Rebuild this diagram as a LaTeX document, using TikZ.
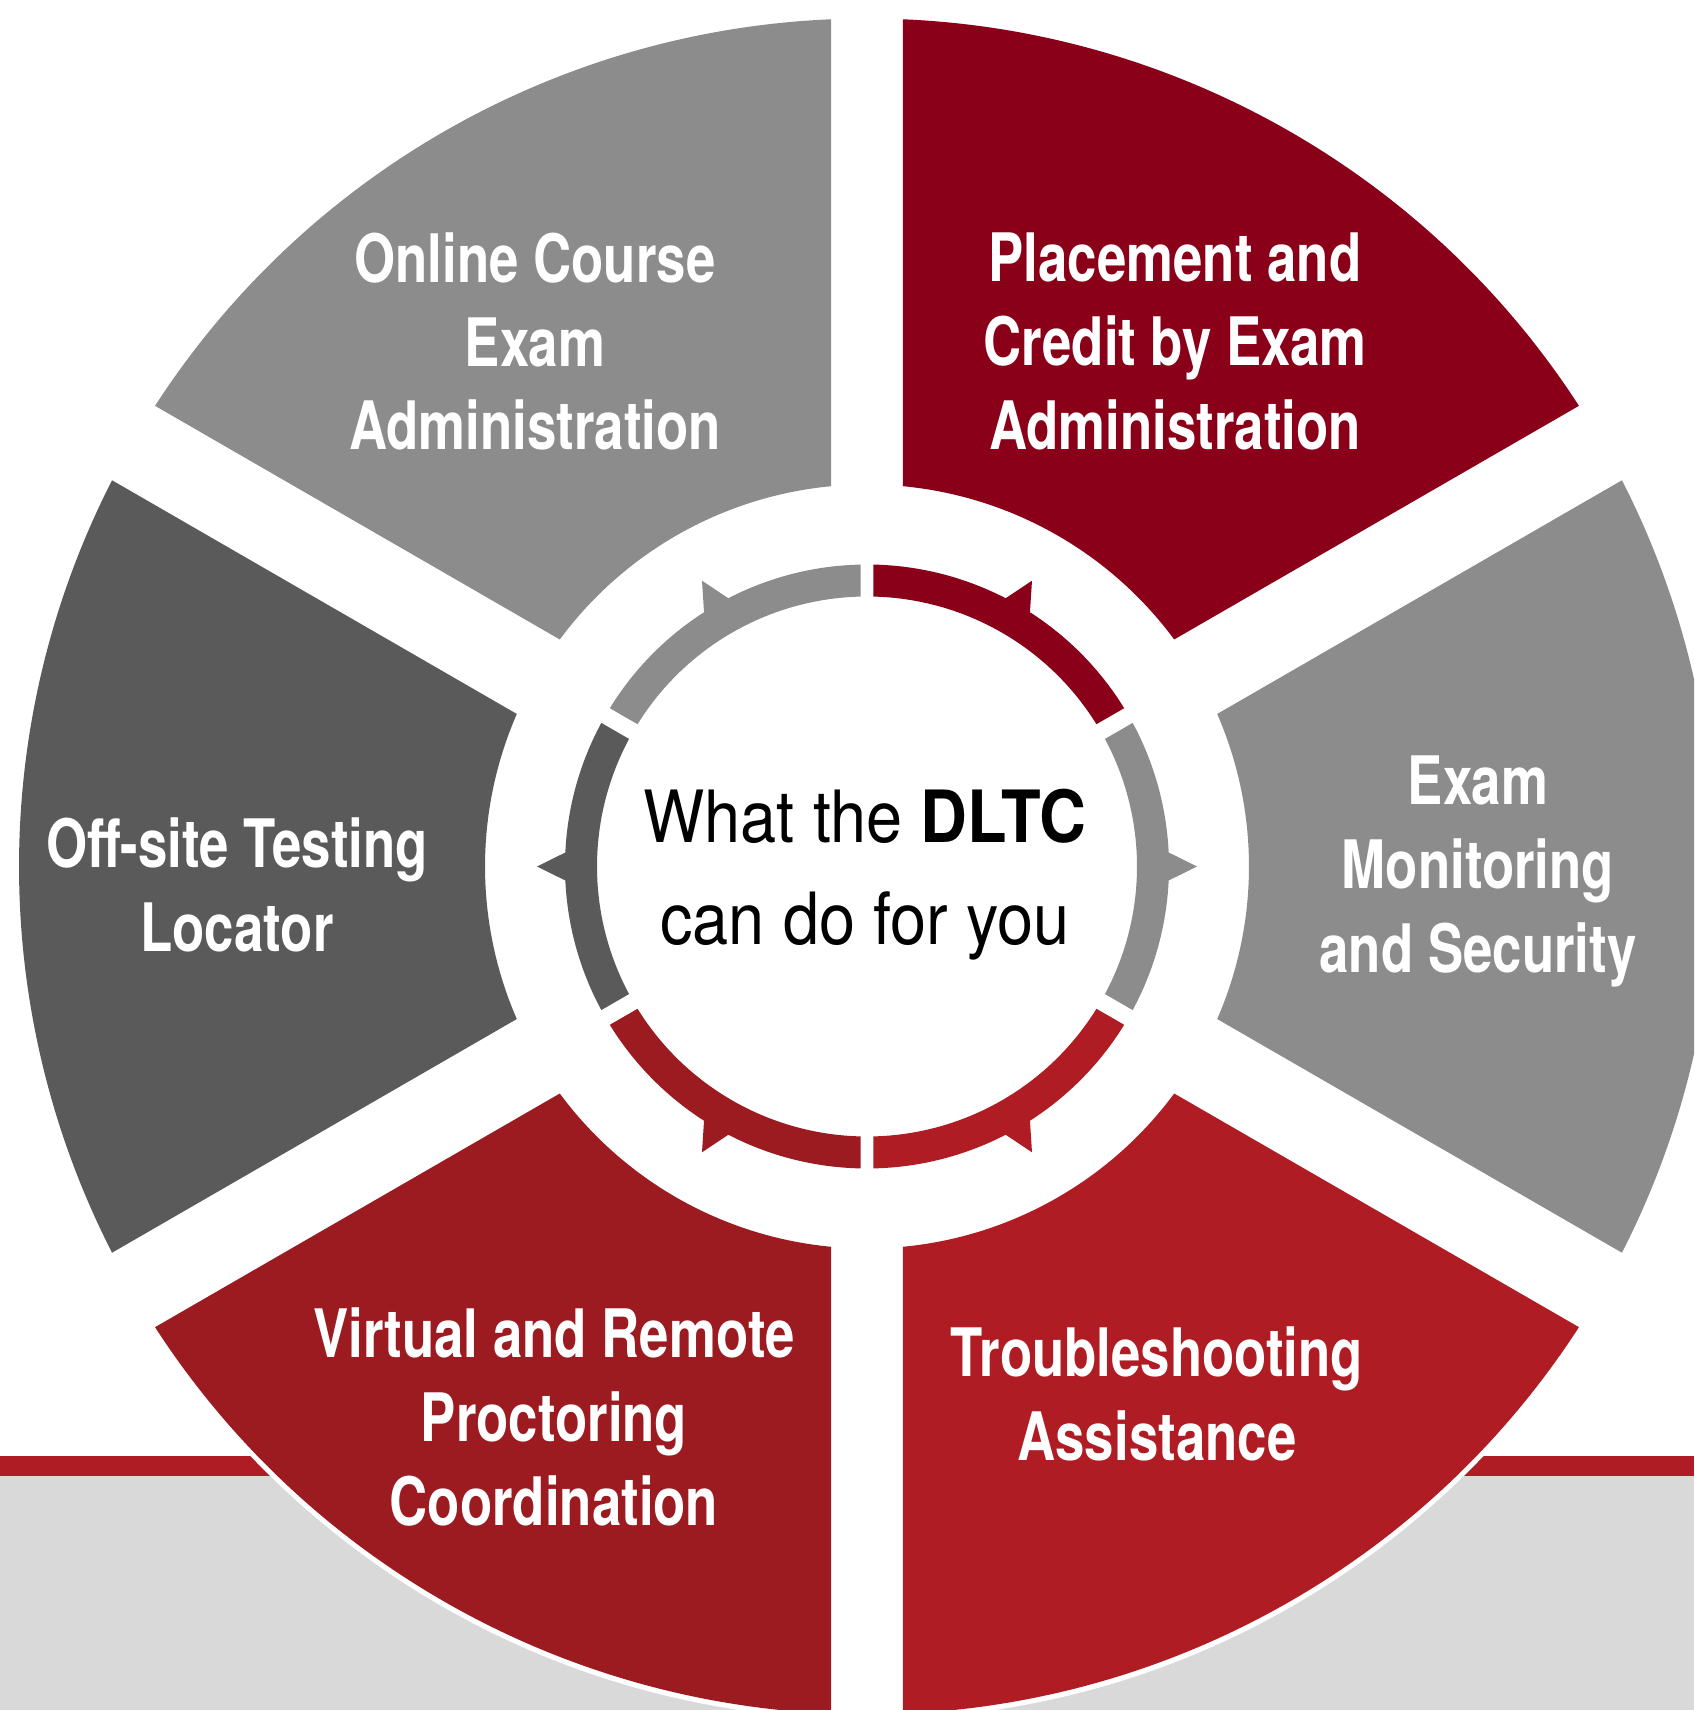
\documentclass[tikz,border=0pt]{standalone}
\usepackage{fontspec}
\setmainfont{TeX Gyre Heros}
\newfontfamily\segfont{TeX Gyre Heros}[FakeStretch=0.79]
\newfontfamily\hubfont{TeX Gyre Heros}[FakeStretch=0.9]
\definecolor{lgray}{HTML}{8C8C8C}
\definecolor{dgray}{HTML}{5A5A5A}
\definecolor{wine}{HTML}{8B0019}
\definecolor{crimson}{HTML}{9B1B21}
\definecolor{brick}{HTML}{AF1C24}
\definecolor{band}{HTML}{D9D9D9}
% radii in px, 1px = 0.01cm
\newcommand{\Rout}{848}
\newcommand{\Rin}{382}
\newcommand{\rout}{302}
\newcommand{\rin}{270}
\newcommand{\rtip}{330}

\begin{document}
\begin{tikzpicture}[x=0.01cm,y=0.01cm]
\tikzstyle{every node}+=[inner sep=0pt, align=center]
\tikzstyle{seglabel}=[text=white, font=\segfont\bfseries\fontsize{19}{23.8}\selectfont]
\useasboundingbox (-867,-843.5) rectangle (827,866.5);
\clip (-867,-843.5) rectangle (827,866.5);
% grey band with red strip at the bottom
\fill [band] (-867,-843.5) rectangle (827,-609.5);
\fill [brick] (-867,-609.5) rectangle (827,-589.5);
% white disc behind the wheel
\fill [white] (0,0) circle (853);
% outer segments: mid angle / gap at start / gap at end / colour
\foreach \a/\ga/\gb/\c in {60/43/36/wine, 0/43/43/lgray, -60/36/43/brick,
                           -120/43/36/crimson, 180/43/43/dgray, 120/36/43/lgray}{
  \fill [\c] ({\a-30+asin(\ga/\Rout)}:\Rout)
    arc [start angle={\a-30+asin(\ga/\Rout)}, end angle={\a+30-asin(\gb/\Rout)}, radius=\Rout]
    -- ({\a+30-asin(\gb/\Rin)}:\Rin)
    arc [start angle={\a+30-asin(\gb/\Rin)}, end angle={\a-30+asin(\ga/\Rin)}, radius=\Rin]
    -- cycle;
}
% inner ring with barbs
\foreach \a/\ga/\gb/\c in {60/8.5/6.3/wine, 0/8.5/8.5/lgray, -60/6.3/8.5/brick,
                           -120/8.5/6.3/crimson, 180/8.5/8.5/dgray, 120/6.3/8.5/lgray}{
  \fill [\c] ({\a-30+asin(\ga/\rout)}:\rout)
    arc [start angle={\a-30+asin(\ga/\rout)}, end angle={\a-2.66}, radius=\rout]
    -- (\a:\rtip) -- ({\a+2.66}:\rout)
    arc [start angle={\a+2.66}, end angle={\a+30-asin(\gb/\rout)}, radius=\rout]
    -- ({\a+30-asin(\gb/\rin)}:\rin)
    arc [start angle={\a+30-asin(\gb/\rin)}, end angle={\a-30+asin(\ga/\rin)}, radius=\rin]
    -- cycle;
}
% labels
\node [seglabel] (online) at (-332,525) {Online Course\\Exam\\Administration};
\node [seglabel] (placement) at (308,525) {Placement and\\Credit by Exam\\Administration};
\node [seglabel] (monitor) at (611,-5) {Exam\\Monitoring\\and Security};
\node [seglabel] (trouble) at (290,-527.5) {Troubleshooting\\Assistance};
\node [seglabel] (virtual) at (-313,-550.5) {Virtual and Remote\\Proctoring\\Coordination};
\node [seglabel] (offsite) at (-630,-18.6) {Off-site Testing\\Locator};
\node [font=\hubfont\fontsize{20.5}{29}\selectfont] (hub) at (-2,-8.3) {What the \textbf{DLTC}\\can do for you};
\end{tikzpicture}
\end{document}
